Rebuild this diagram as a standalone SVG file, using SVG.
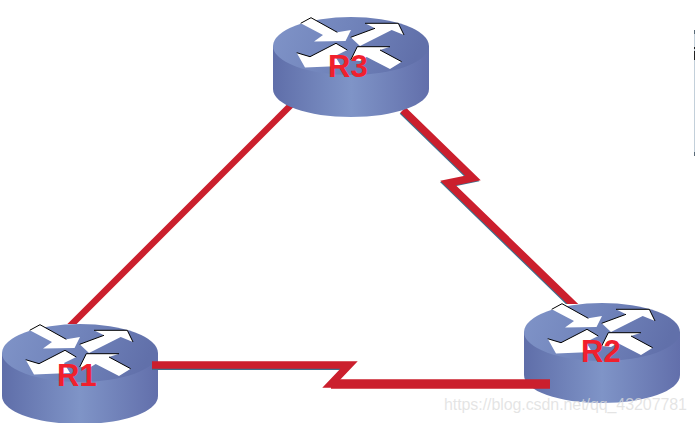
<svg xmlns="http://www.w3.org/2000/svg" width="695" height="423" viewBox="0 0 695 423">
<style>
.wire{fill:none;stroke:#cb1f2d;stroke-width:7.5;stroke-linejoin:miter}
.thin{stroke-width:6.5}
.shade{fill:none;stroke:#3f6f8c;stroke-width:7;stroke-linejoin:miter}
.lbl{font-family:"Liberation Sans",Arial,sans-serif;font-size:31px;font-weight:bold;fill:#f1202d}
.arrow{fill:#fff}
.edge{fill:none;stroke:#000;stroke-width:1}
</style>
<defs>
<linearGradient id="topG" x1="0" y1="0" x2="1" y2="0.15">
<stop offset="0" stop-color="#8094c8"/><stop offset="0.5" stop-color="#7184bb"/><stop offset="1" stop-color="#6170aa"/>
</linearGradient>
<linearGradient id="sideG" x1="0" y1="0" x2="1" y2="0">
<stop offset="0" stop-color="#5f6ea9"/><stop offset="0.5" stop-color="#7f94c7"/><stop offset="1" stop-color="#626fab"/>
</linearGradient>
<clipPath id="c1"><rect x="0" y="0" width="695" height="324"/></clipPath>
<clipPath id="c2"><rect x="0" y="0" width="695" height="304"/></clipPath>
<g id="router">
<path d="M273 46V89C273 105 308 117 351 117S429 105 429 89V46Z" fill="url(#sideG)"/>
<ellipse cx="351" cy="46" rx="78" ry="29" fill="url(#topG)"/>
<path class="arrow" d="M300.700 23.300L311 17.700L337.300 32.300L351 30L345.500 41L314 41.500L323 35Z"/>
<path class="edge" d="M300.700 23.300L311 17.700L337.300 32.300"/>
<path class="arrow" d="M365 23.300H398.300L404 35L391.700 30L360 46L350.700 37.300L375 28.300Z"/>
<path class="edge" d="M365 23.300H398.300L404 35M350.700 37.300L375 28.300"/>
<path class="arrow" d="M296.700 52.700L310 56.700L336 43.300L347.300 50L335 56L341 66L305 67.500Z"/>
<path class="edge" d="M296.700 52.700L310 56.700L336 43.300L347.300 50"/>
<path class="arrow" d="M350.700 60L357.300 46.700H390L380 50L401.700 61.700L390 69L366.700 57L360 61Z"/>
<path class="edge" d="M350.700 60L357.300 46.700H390M380 50L401.700 61.700"/>
</g>
</defs>
<rect width="695" height="423" fill="#fff"/>
<g id="node-R1"><use href="#router" x="-271" y="307"/></g>
<g id="node-R2"><use href="#router" x="251" y="286"/></g>
<g id="connectors">
<line class="wire thin" x1="292" y1="104" x2="66" y2="330" clip-path="url(#c1)"/>
<g clip-path="url(#c2)">
<path class="shade" d="M403 110L473 178L448 183L578 309" transform="translate(-0.800 1.200)"/>
<path class="wire" d="M403 110L473 178L448 183L578 309"/>
</g>
<path class="shade" d="M152 365H349" transform="translate(0 1.500)"/>
<path class="wire" d="M152 365H349L331 384H550"/>
<line x1="331" y1="384" x2="550" y2="384" stroke="#cb1f2d" stroke-width="9.500"/>
</g>
<g id="node-R3"><use href="#router"/></g>
<text class="lbl" x="328" y="77">R3</text>
<text class="lbl" x="57" y="386">R1</text>
<text class="lbl" x="581" y="362">R2</text>
<text x="444" y="410" font-family="Liberation Sans,Arial,sans-serif" font-size="16" fill="#dcdcdc" fill-opacity="0.75" textLength="243">https://blog.csdn.net/qq_43207781</text>
<rect x="694" y="30" width="1" height="126" fill="#c3d0da"/>
<rect x="694" y="30" width="1" height="4" fill="#5a6b78"/>
<rect x="694" y="47" width="1" height="2" fill="#222"/>
<rect x="694" y="51" width="1" height="9" fill="#222"/>
<rect x="694" y="152" width="1" height="4" fill="#5a6b78"/>
</svg>
